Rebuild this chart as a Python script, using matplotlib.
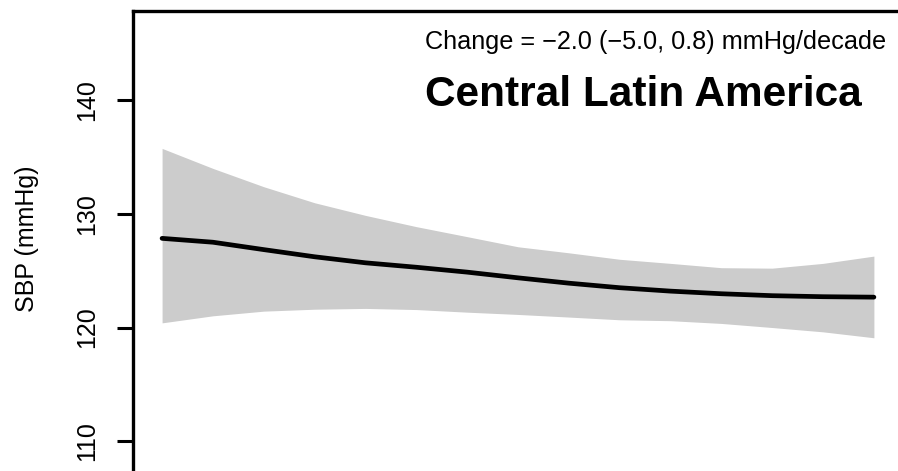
import matplotlib
matplotlib.use("Agg")
import matplotlib.pyplot as plt

plt.rcParams["font.family"] = ["Liberation Sans", "DejaVu Sans"]

# values
years = [1980, 1982.5, 1985, 1987.5, 1990, 1992.5, 1995, 1997.5,
         2000, 2002.5, 2005, 2007.5, 2010, 2012.5, 2015]
sbp_mean = [127.84, 127.5, 126.85, 126.22, 125.69, 125.3, 124.87, 124.37,
            123.9, 123.5, 123.2, 122.97, 122.8, 122.71, 122.67]
sbp_upper = [135.75, 133.99, 132.38, 130.97, 129.86, 128.87, 127.99, 127.1,
             126.57, 126.0, 125.64, 125.26, 125.22, 125.64, 126.28]
sbp_lower = [120.41, 121.03, 121.44, 121.61, 121.68, 121.58, 121.35, 121.15,
             120.92, 120.68, 120.6, 120.36, 120.0, 119.62, 119.1]
yticks = [110, 120, 130, 140]

region = "Central Latin America"
change_txt = "Change = \u22122.0 (\u22125.0, 0.8) mmHg/decade"

W, H = 898, 471
fig = plt.figure(figsize=(W / 100, H / 100), dpi=100)

# axes box is cropped by the figure edge on the right and bottom
left_px, top_px, right_px, bottom_px = 133, 11, 940, 555
ax = fig.add_axes([left_px / W, 1 - bottom_px / H,
                   (right_px - left_px) / W, (bottom_px - top_px) / H])

ax.fill_between(years, sbp_lower, sbp_upper, color="#cccccc", linewidth=0)
ax.plot(years, sbp_mean, color="black", linewidth=3.4, solid_capstyle="round")

ax.set_xlim(1978.57, 2018.25)
ax.set_ylim(100.0, 147.83)
ax.set_yticks(yticks)
ax.set_yticklabels([str(t) for t in yticks], rotation=90, va="center", fontsize=18)
ax.tick_params(axis="y", length=11.5, width=2.2, pad=13)
ax.set_xticks([])
for s in ax.spines.values():
    s.set_linewidth(2.4)

ax.set_ylabel("SBP (mmHg)", fontsize=18)
ax.yaxis.set_label_coords(-94 / (right_px - left_px), (bottom_px - 239) / (bottom_px - top_px))

fig.text(425 / W, 1 - 42 / H, change_txt, ha="left", va="center", fontsize=18.2)
fig.text(425 / W, 1 - 95 / H, region, ha="left", va="center", fontsize=30.5,
         fontweight="bold")

fig.savefig("out.png", dpi=100)
